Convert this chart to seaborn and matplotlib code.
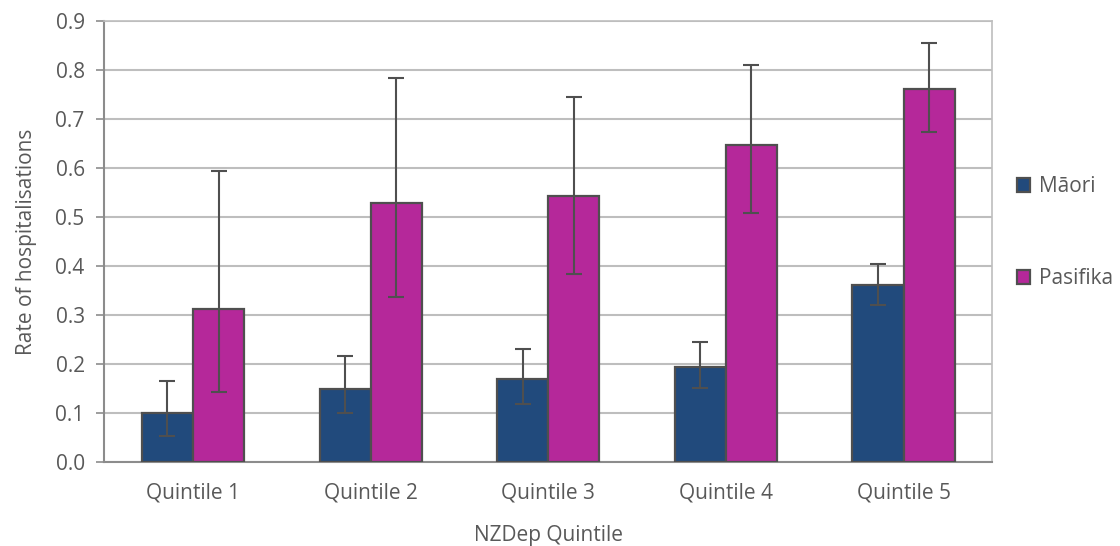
import numpy as np
import pandas as pd
import matplotlib
matplotlib.use('Agg')
import matplotlib.pyplot as plt
import seaborn as sns

quintiles = ['Quintile 1', 'Quintile 2', 'Quintile 3', 'Quintile 4', 'Quintile 5']
groups = ['Māori', 'Pasifika']
maori = [0.100, 0.150, 0.169, 0.193, 0.361]
maori_lo = [0.054, 0.100, 0.119, 0.152, 0.320]
maori_hi = [0.166, 0.217, 0.231, 0.244, 0.405]
pasifika = [0.312, 0.528, 0.543, 0.647, 0.761]
pasifika_lo = [0.143, 0.337, 0.383, 0.509, 0.674]
pasifika_hi = [0.593, 0.784, 0.745, 0.810, 0.855]
colors = ['#214A7C', '#B5289A']

df = pd.DataFrame({
    'quintile': quintiles * 2,
    'group': [groups[0]] * 5 + [groups[1]] * 5,
    'rate': maori + pasifika,
    'lo': maori_lo + pasifika_lo,
    'hi': maori_hi + pasifika_hi,
})

sns.set_style('white')
plt.rcParams['font.family'] = ['Open Sans', 'DejaVu Sans']
txt = '#595959'
fs = 15

fig, ax = plt.subplots(figsize=(11.2, 5.46), dpi=100)
fig.subplots_adjust(left=0.093, right=0.886, top=0.9615, bottom=0.1538)

sns.barplot(data=df, x='quintile', y='rate', hue='group', palette=colors,
            saturation=1, width=0.575, edgecolor='#4f4f4f', linewidth=1.6,
            errorbar=None, ax=ax, zorder=3)

# error bars on the bar centres
for cont, g in zip(ax.containers, groups):
    sub = df[df['group'] == g]
    xs = [b.get_x() + b.get_width() / 2 for b in cont]
    ys = sub['rate'].values
    err = [ys - sub['lo'].values, sub['hi'].values - ys]
    ax.errorbar(xs, ys, yerr=err, fmt='none', ecolor='#4f4f4f', elinewidth=1.5,
                capsize=6, capthick=1.5, zorder=4)

ax.set_ylim(0, 0.9)
ax.set_xlim(-0.5, 4.5)
ax.set_yticks(np.arange(0, 0.91, 0.1))
ax.yaxis.set_major_formatter(matplotlib.ticker.FormatStrFormatter('%.1f'))
ax.grid(axis='y', color='#BEBEBE', linewidth=1.5, zorder=0)
ax.set_axisbelow(True)

ax.set_xticks(np.arange(-0.5, 4.6, 1.0), minor=True)
ax.tick_params(axis='x', which='major', length=0, pad=15, labelsize=fs, labelcolor=txt)
ax.tick_params(axis='x', which='minor', length=6, width=1.2, color='#8c8c8c', direction='out')
ax.tick_params(axis='y', length=6, width=1.2, color='#8c8c8c', pad=8, labelsize=fs,
               labelcolor=txt, left=True)

for s in ['left', 'bottom']:
    ax.spines[s].set_color('#8c8c8c')
    ax.spines[s].set_linewidth(1.5)
for s in ['top', 'right']:
    ax.spines[s].set_color('#BEBEBE')
    ax.spines[s].set_linewidth(1.2)

ax.set_xlabel('NZDep Quintile', fontsize=fs, color=txt, labelpad=15)
ax.set_ylabel('Rate of hospitalisations', fontsize=fs, color=txt, labelpad=13)

ax.legend(loc='center left', bbox_to_anchor=(1.018, 0.52), frameon=False,
          fontsize=fs, labelcolor=txt, handlelength=0.65, handleheight=0.65,
          handletextpad=0.4, labelspacing=3.4, borderaxespad=0)

plt.savefig('out.png', dpi=100)
